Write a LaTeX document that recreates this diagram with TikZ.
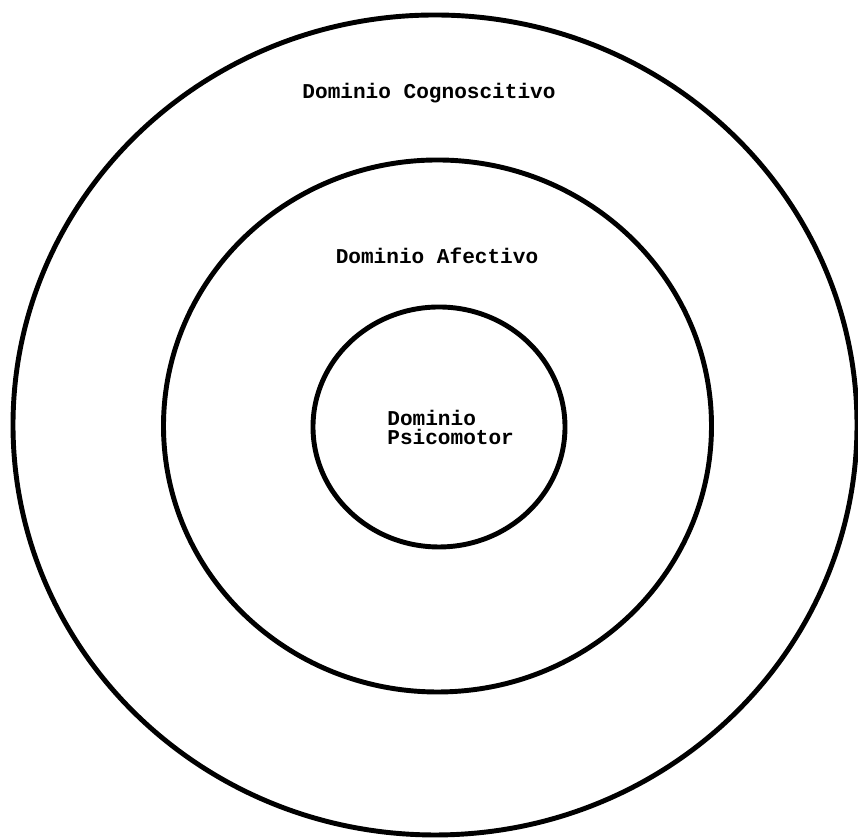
\documentclass[tikz,border=0pt]{standalone}
\usepackage{fontspec}
\setmonofont{Liberation Mono}
\tikzset{
    dominio/.style={font=\ttfamily\bfseries\fontsize{12}{11}\selectfont,inner sep=0pt},
    anillo/.style={line width=2.8pt,black}
}
\begin{document}
\begin{tikzpicture}[x=1cm,y=1cm]
    \useasboundingbox (0,0) rectangle (17.16,16.78);

    % tres dominios, uno dentro del otro
    \draw[anillo] (8.70,8.28) ellipse [x radius=8.44,y radius=8.20];
    \draw[anillo] (8.75,8.26) ellipse [x radius=5.48,y radius=5.32];
    \draw[anillo] (8.78,8.24) ellipse [x radius=2.52,y radius=2.40];

    \node[dominio] (cognoscitivo) at (8.58,14.92) {Dominio Cognoscitivo};
    \node[dominio] (afectivo) at (8.74,11.66) {Dominio Afectivo};
    \node[dominio,anchor=west,align=left] (psicomotor) at (7.74,8.23)
        {Dominio\\Psicomotor};
\end{tikzpicture}
\end{document}
